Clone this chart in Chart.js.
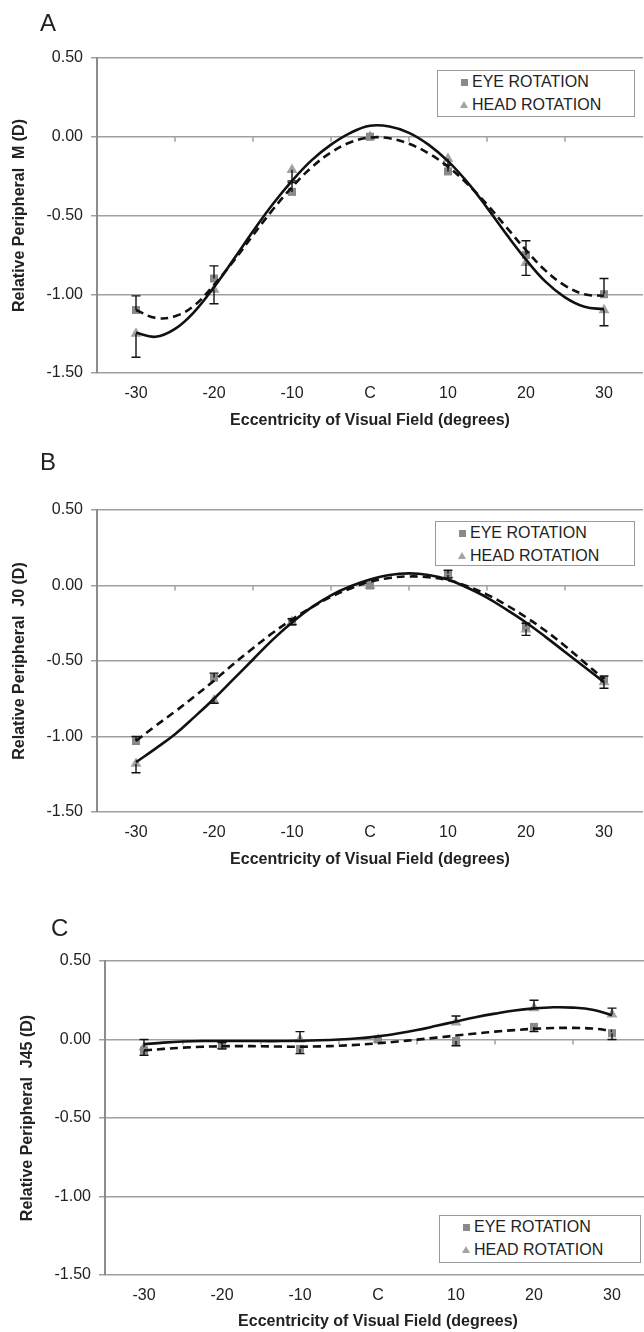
<!DOCTYPE html>
<html>
<head>
<meta charset="utf-8">
<script src="https://cdn.jsdelivr.net/npm/chart.js@4.4.1/dist/chart.umd.min.js"></script>
<style>
    html, body { margin: 0; padding: 0; background: #fff; overflow: hidden; }
    #page { position: relative; width: 644px; height: 1332px; overflow: hidden;
            font-family: "Liberation Sans", Arial, sans-serif; color: #222; }
    canvas { position: absolute; left: 0; }
    .plabel { position: absolute; font-size: 24px; line-height: 24px; }
    .legend { position: absolute; box-sizing: border-box; border: 1.5px solid #9a9a9a; background: #fff; }
    .legend .item { position: absolute; font-size: 16px; line-height: 16px; white-space: nowrap; }
    .mk-rect { position: absolute; width: 7px; height: 7px; background: #8a8a8a; }
    .mk-tri { position: absolute; width: 0; height: 0; border-left: 4px solid transparent;
              border-right: 4px solid transparent; border-bottom: 7px solid #a3a3a3; }
</style>
</head>
<body>
<div id="page"></div>
<script>
/***************************************************************
 * DATA
 ***************************************************************/
const categories = [-30, -20, -10, 0, 10, 20, 30];
const categoryLabels = ["-30", "-20", "-10", "C", "10", "20", "30"];
const fitX = [-30, -27.5, -25, -22.5, -20, -17.5, -15, -12.5, -10, -7.5, -5, -2.5, 0,
              2.5, 5, 7.5, 10, 12.5, 15, 17.5, 20, 22.5, 25, 27.5, 30];
const legendLabels = ["EYE ROTATION", "HEAD ROTATION"];

// error arrays are signed: + draws the bar upward, - downward

// A : M
const mEye     = [-1.10, -0.90, -0.35, 0.00, -0.22, -0.75, -1.00];
const mHead    = [-1.25, -0.97, -0.21, 0.00, -0.14, -0.80, -1.10];
const mEyeErr  = [0.09, 0.08, 0.07, 0, 0.04, 0.09, 0.10];
const mHeadErr = [-0.15, -0.09, -0.08, 0, -0.04, -0.08, -0.10];
const mEyeFit  = [-1.10, -1.15, -1.14, -1.07, -0.94, -0.79, -0.625, -0.465, -0.32, -0.195, -0.10, -0.035, -0.005,
                  -0.01, -0.045, -0.105, -0.19, -0.30, -0.43, -0.575, -0.72, -0.85, -0.945, -1.00, -1.01];
const mHeadFit = [-1.245, -1.27, -1.22, -1.11, -0.955, -0.78, -0.60, -0.43, -0.28, -0.15, -0.05, 0.025, 0.07,
                  0.065, 0.025, -0.05, -0.155, -0.29, -0.45, -0.62, -0.78, -0.92, -1.02, -1.08, -1.095];

// B : J0
const j0Eye     = [-1.03, -0.61, -0.24, 0.00, 0.08, -0.27, -0.62];
const j0Head    = [-1.18, -0.76, -0.24, 0.00, 0.07, -0.29, -0.64];
const j0EyeErr  = [0.03, 0.03, 0.02, 0, 0.02, 0.02, 0.02];
const j0HeadErr = [-0.06, -0.02, -0.02, 0, -0.02, -0.04, -0.04];
const j0EyeFit  = [-1.03, -0.93, -0.835, -0.735, -0.63, -0.52, -0.415, -0.315, -0.225, -0.145, -0.075, -0.02, 0.025,
                   0.05, 0.06, 0.055, 0.035, -0.005, -0.06, -0.13, -0.21, -0.30, -0.40, -0.51, -0.62];
const j0HeadFit = [-1.17, -1.08, -0.985, -0.87, -0.75, -0.62, -0.49, -0.36, -0.245, -0.145, -0.065, -0.005, 0.04,
                   0.07, 0.08, 0.07, 0.04, -0.015, -0.08, -0.16, -0.245, -0.34, -0.44, -0.54, -0.64];

// C : J45
const j45Eye     = [-0.07, -0.04, -0.06, 0.00, -0.01, 0.08, 0.04];
const j45Head    = [-0.05, -0.04, 0.00, 0.00, 0.11, 0.20, 0.16];
const j45EyeErr  = [-0.03, -0.02, -0.03, 0, -0.03, -0.03, -0.04];
const j45HeadErr = [0.05, 0.02, 0.05, 0, 0.04, 0.05, 0.04];
const j45EyeFit  = [-0.07, -0.06, -0.052, -0.046, -0.043, -0.042, -0.043, -0.045, -0.046, -0.044, -0.04, -0.033, -0.024,
                    -0.013, -0.001, 0.012, 0.025, 0.038, 0.05, 0.06, 0.068, 0.073, 0.074, 0.07, 0.055];
const j45HeadFit = [-0.03, -0.02, -0.013, -0.01, -0.01, -0.01, -0.01, -0.01, -0.008, -0.005, 0.00, 0.008, 0.02,
                    0.038, 0.06, 0.087, 0.115, 0.142, 0.165, 0.185, 0.198, 0.205, 0.203, 0.19, 0.155];

/***************************************************************
 * PANEL LAYOUT
 ***************************************************************/
const FONT = '"Liberation Sans", Arial, sans-serif';
const CANVAS_W = 660;
const Y_AXIS_W = 97;
const PLOT_W = 546;

const panels = [
    { letter: "A", top: 0,   height: 440, padTop: 58, padLeft: 0, xHeight: 67, xTitlePad: 10,
      labelPos: [40, 11], legend: [437, 70, 198, 47],
      yTitle: "Relative Peripheral  M (D)",
      eye: mEye, head: mHead, eyeErr: mEyeErr, headErr: mHeadErr, eyeFit: mEyeFit, headFit: mHeadFit },
    { letter: "B", top: 440, height: 440, padTop: 70, padLeft: 0, xHeight: 68, xTitlePad: 11,
      labelPos: [40, 450], legend: [435, 521, 200, 45],
      yTitle: "Relative Peripheral  J0 (D)",
      eye: j0Eye, head: j0Head, eyeErr: j0EyeErr, headErr: j0HeadErr, eyeFit: j0EyeFit, headFit: j0HeadFit },
    { letter: "C", top: 880, height: 452, padTop: 81, padLeft: 8, xHeight: 57, xTitlePad: 1,
      labelPos: [51, 916], legend: [439, 1215, 202, 48],
      yTitle: "Relative Peripheral  J45 (D)",
      eye: j45Eye, head: j45Head, eyeErr: j45EyeErr, headErr: j45HeadErr, eyeFit: j45EyeFit, headFit: j45HeadFit }
];

/***************************************************************
 * PLUGINS
 ***************************************************************/
// one-sided error bars (value -> value + err, cap at the end)
const errorBarsPlugin = {
    id: "errorBars",
    afterDatasetsDraw(chart, args, opts) {
        const { ctx, scales: { x, y } } = chart;
        ctx.save();
        ctx.strokeStyle = "#111";
        ctx.lineWidth = 1.4;
        opts.series.forEach(([vals, errs]) => {
            vals.forEach((v, i) => {
                if (!errs[i]) return;
                const px = x.getPixelForValue(categories[i]);
                const y1 = y.getPixelForValue(v);
                const y2 = y.getPixelForValue(v + errs[i]);
                ctx.beginPath();
                ctx.moveTo(px, y1); ctx.lineTo(px, y2);
                ctx.moveTo(px - 4.5, y2); ctx.lineTo(px + 4.5, y2);
                ctx.stroke();
            });
        });
        ctx.restore();
    }
};

// small category tick marks hanging under the zero line
const zeroTicksPlugin = {
    id: "zeroTicks",
    beforeDatasetsDraw(chart) {
        const { ctx, scales: { x, y } } = chart;
        const y0 = y.getPixelForValue(0);
        ctx.save();
        ctx.strokeStyle = "#a0a0a0";
        ctx.lineWidth = 1.5;
        for (let i = 0; i < categories.length - 1; i++) {
            const px = x.getPixelForValue((categories[i] + categories[i + 1]) / 2);
            ctx.beginPath();
            ctx.moveTo(px, y0);
            ctx.lineTo(px, y0 + 5);
            ctx.stroke();
        }
        ctx.restore();
    }
};

/***************************************************************
 * BUILD
 ***************************************************************/
const page = document.getElementById("page");
const pts = (xs, ys) => xs.map((x, i) => ({ x: x, y: ys[i] }));

function makeLegend(p) {
    const [l, t, w, h] = p.legend;
    const box = document.createElement("div");
    box.className = "legend";
    box.style.cssText = `left:${l}px;top:${t}px;width:${w}px;height:${h}px;`;
    legendLabels.forEach((txt, i) => {
        const cy = 11 + i * 23;
        const mk = document.createElement("div");
        if (i === 0) {
            mk.className = "mk-rect";
            mk.style.cssText = `left:23px;top:${cy - 3}px;`;
        } else {
            mk.className = "mk-tri";
            mk.style.cssText = `left:22px;top:${cy - 4}px;`;
        }
        box.appendChild(mk);
        const it = document.createElement("div");
        it.className = "item";
        it.style.cssText = `left:34px;top:${cy - 8}px;`;
        it.textContent = txt;
        box.appendChild(it);
    });
    page.appendChild(box);
}

function makePanel(p) {
    const canvas = document.createElement("canvas");
    canvas.width = CANVAS_W;
    canvas.height = p.height;
    canvas.style.top = p.top + "px";
    canvas.style.width = CANVAS_W + "px";
    canvas.style.height = p.height + "px";
    page.appendChild(canvas);

    const lbl = document.createElement("div");
    lbl.className = "plabel";
    lbl.style.left = p.labelPos[0] + "px";
    lbl.style.top = p.labelPos[1] + "px";
    lbl.textContent = p.letter;
    page.appendChild(lbl);

    new Chart(canvas, {
        type: "scatter",
        data: {
            datasets: [
                {
                    label: "eye fit",
                    data: pts(fitX, p.eyeFit),
                    showLine: true,
                    borderColor: "#111",
                    borderWidth: 2.6,
                    borderDash: [8, 5],
                    pointRadius: 0,
                    tension: 0.4,
                    order: 0
                },
                {
                    label: "head fit",
                    data: pts(fitX, p.headFit),
                    showLine: true,
                    borderColor: "#111",
                    borderWidth: 2.6,
                    pointRadius: 0,
                    tension: 0.4,
                    order: 0
                },
                {
                    label: legendLabels[0],
                    data: pts(categories, p.eye),
                    pointStyle: "rect",
                    pointRadius: 5.7,
                    backgroundColor: "#8a8a8a",
                    borderWidth: 0,
                    order: 1
                },
                {
                    label: legendLabels[1],
                    data: pts(categories, p.head),
                    pointStyle: "triangle",
                    pointRadius: 6.3,
                    backgroundColor: "#a3a3a3",
                    borderWidth: 0,
                    order: 1
                }
            ]
        },
        options: {
            responsive: false,
            animation: false,
            events: [],
            devicePixelRatio: 1,
            layout: {
                padding: {
                    top: p.padTop,
                    left: p.padLeft,
                    right: CANVAS_W - p.padLeft - Y_AXIS_W - PLOT_W,
                    bottom: 0
                }
            },
            plugins: {
                legend: { display: false },
                tooltip: { enabled: false },
                errorBars: { series: [[p.eye, p.eyeErr], [p.head, p.headErr]] }
            },
            scales: {
                x: {
                    type: "linear",
                    min: -35,
                    max: 35,
                    afterBuildTicks: s => { s.ticks = categories.map(v => ({ value: v })); },
                    ticks: {
                        autoSkip: false,
                        maxRotation: 0,
                        color: "#222",
                        font: { family: FONT, size: 16 },
                        callback: v => categoryLabels[categories.indexOf(v)]
                    },
                    grid: { display: false },
                    border: { display: false },
                    title: {
                        display: true,
                        text: "Eccentricity of Visual Field (degrees)",
                        color: "#222",
                        font: { family: FONT, size: 16, weight: "bold" },
                        padding: { top: 0, bottom: p.xTitlePad }
                    },
                    afterFit: s => { s.height = p.xHeight; }
                },
                y: {
                    min: -1.5,
                    max: 0.5,
                    ticks: {
                        stepSize: 0.5,
                        padding: 8,
                        color: "#222",
                        font: { family: FONT, size: 16 },
                        callback: v => v.toFixed(2)
                    },
                    grid: { color: "#a0a0a0", lineWidth: 1.5, tickLength: 6 },
                    border: { color: "#8c8c8c", width: 2 },
                    title: {
                        display: true,
                        text: p.yTitle,
                        color: "#222",
                        font: { family: FONT, size: 16, weight: "bold" },
                        padding: { top: 10, bottom: 0 }
                    },
                    afterFit: s => { s.width = Y_AXIS_W; }
                }
            }
        },
        plugins: [zeroTicksPlugin, errorBarsPlugin]
    });

    makeLegend(p);
}

panels.forEach(makePanel);
</script>
</body>
</html>
